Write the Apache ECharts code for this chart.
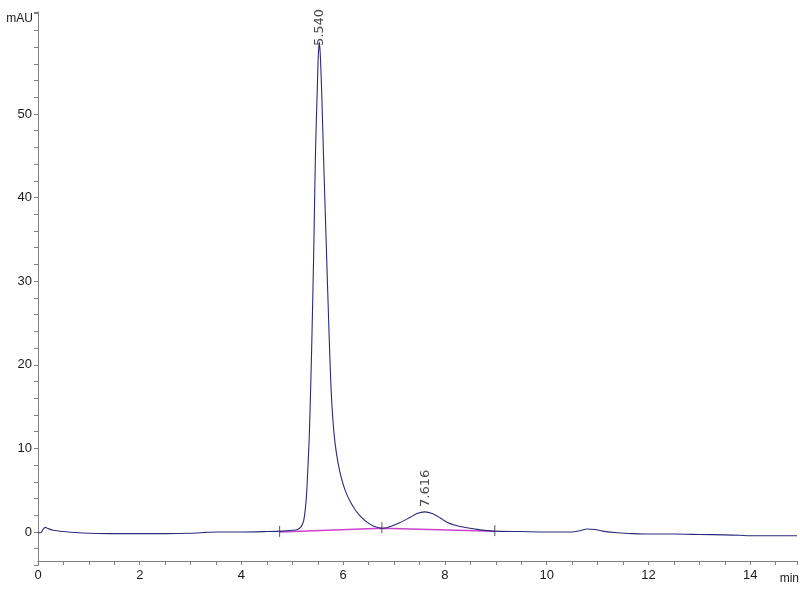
<!DOCTYPE html>
<html>
<head>
<meta charset="utf-8">
<script src="https://cdn.jsdelivr.net/npm/echarts@6/dist/echarts.min.js"></script>
<style>html,body{margin:0;padding:0;background:#fff;}#c{width:800px;height:600px;}</style>
</head>
<body>
<div id="c"></div>
<script>
// Chromatogram trace (time in min, signal in mAU)
const times = [0.00,0.05,0.10,0.14,0.20,0.30,0.50,0.80,1.00,1.50,2.00,2.50,3.00,3.30,3.50,4.00,4.50,4.80,5.00,5.10,5.17,5.22,5.25,5.28,5.30,5.33,5.35,5.38,5.42,5.455,5.49,5.51,5.53,5.55,5.58,5.61,5.67,5.72,5.755,5.79,5.84,5.90,5.97,6.05,6.14,6.24,6.35,6.46,6.58,6.72,6.78,6.90,7.11,7.30,7.45,7.60,7.75,7.90,8.03,8.20,8.43,8.70,8.94,9.50,10.0,10.5,10.65,10.80,10.95,11.10,11.40,11.70,12.0,12.5,13.0,13.5,13.8,14.0,14.5,14.92];
const signal = [-0.1,-0.1,0.3,0.55,0.4,0.2,0.05,-0.1,-0.15,-0.2,-0.2,-0.2,-0.15,-0.05,0.0,0.0,0.05,0.1,0.2,0.3,0.6,1.3,2.5,4.5,7.0,11.0,15.0,22.0,33.5,45.5,53.0,57.0,58.6,57.0,52.0,45.5,33.7,24.0,18.0,14.0,10.6,8.2,6.3,4.8,3.6,2.6,1.8,1.2,0.75,0.47,0.45,0.6,1.1,1.7,2.2,2.4,2.2,1.7,1.2,0.8,0.5,0.25,0.1,0.05,0.0,0.0,0.15,0.35,0.3,0.1,-0.1,-0.2,-0.25,-0.25,-0.3,-0.35,-0.4,-0.45,-0.45,-0.45];

// Integration baseline
const baseTimes = [4.75, 6.76, 8.98];
const baseValues = [0.0, 0.45, 0.1];

// Peak annotations
const peakTimes = [5.540, 7.616];
const peakHeights = [58.6, 2.4];
const peakLabels = ['5.540', '7.616'];

// Axis ticks
const xTickLabels = [0, 2, 4, 6, 8, 10, 12, 14];
const yTickLabels = [0, 10, 20, 30, 40, 50];

const chart = echarts.init(document.getElementById('c'), null, {renderer: 'canvas'});
const axisColor = '#808080';
const labelFont = '"Liberation Sans", Arial, sans-serif';

const labelDist = [-4, 5];

chart.setOption({
  animation: false,
  backgroundColor: '#ffffff',
  grid: {left: 38, right: 3, top: 12, bottom: 34.6, containLabel: false},
  xAxis: {
    type: 'value', min: 0, max: 14.92, interval: 2, offset: -4.4,
    axisLine: {onZero: false, lineStyle: {color: axisColor, width: 1}},
    axisTick: {show: true, length: 4, lineStyle: {color: axisColor}},
    minorTick: {show: true, splitNumber: 4, length: 4, lineStyle: {color: axisColor}},
    splitLine: {show: false},
    axisLabel: {
      color: '#1a1a1a', fontSize: 13, fontFamily: labelFont, margin: 8,
      customValues: xTickLabels
    }
  },
  yAxis: {
    type: 'value', min: -4, max: 62.2, interval: 2,
    axisLine: {show: true, onZero: false, lineStyle: {color: axisColor, width: 1}},
    axisTick: {show: true, length: 4, lineStyle: {color: axisColor}},
    splitLine: {show: false},
    axisLabel: {
      color: '#1a1a1a', fontSize: 13, fontFamily: labelFont, margin: 6,
      customValues: yTickLabels
    }
  },
  graphic: [
    {type: 'text', right: 767, top: 13, style: {text: 'mAU', fill: '#1a1a1a', font: '12px ' + labelFont}},
    {type: 'text', right: 1, top: 573, style: {text: 'min', fill: '#1a1a1a', font: '12px ' + labelFont}}
  ],
  series: [
    {
      type: 'line', name: 'baseline',
      data: baseTimes.map((t, i) => [t, baseValues[i]]),
      symbol: 'none', silent: true,
      lineStyle: {color: '#cc44cc', width: 1.5},
      z: 2
    },
    {
      type: 'custom', name: 'boundaries',
      data: baseTimes.map((t, i) => [t, baseValues[i]]),
      renderItem: (params, api) => {
        const p = api.coord([api.value(0), api.value(1)]);
        return {type: 'line', shape: {x1: p[0], y1: p[1] - 6, x2: p[0], y2: p[1] + 5},
                style: {stroke: '#555555', lineWidth: 1}};
      },
      z: 3
    },
    {
      type: 'line', name: 'signal',
      data: times.map((t, i) => [t, signal[i]]),
      symbol: 'none', smooth: 0.25,
      lineStyle: {color: '#2a2a7c', width: 1.1},
      z: 4
    },
    {
      type: 'scatter', name: 'peaks',
      data: peakTimes.map((t, i) => ({
        value: [t, peakHeights[i]],
        label: {distance: labelDist[i]}
      })),
      symbolSize: 0,
      label: {
        show: true, position: 'top', rotate: 90, align: 'left', verticalAlign: 'middle',
        color: '#1a1a1a', fontSize: 13, fontFamily: '"DejaVu Sans", sans-serif',
        formatter: p => peakLabels[p.dataIndex]
      },
      z: 5
    }
  ]
});
</script>
</body>
</html>
